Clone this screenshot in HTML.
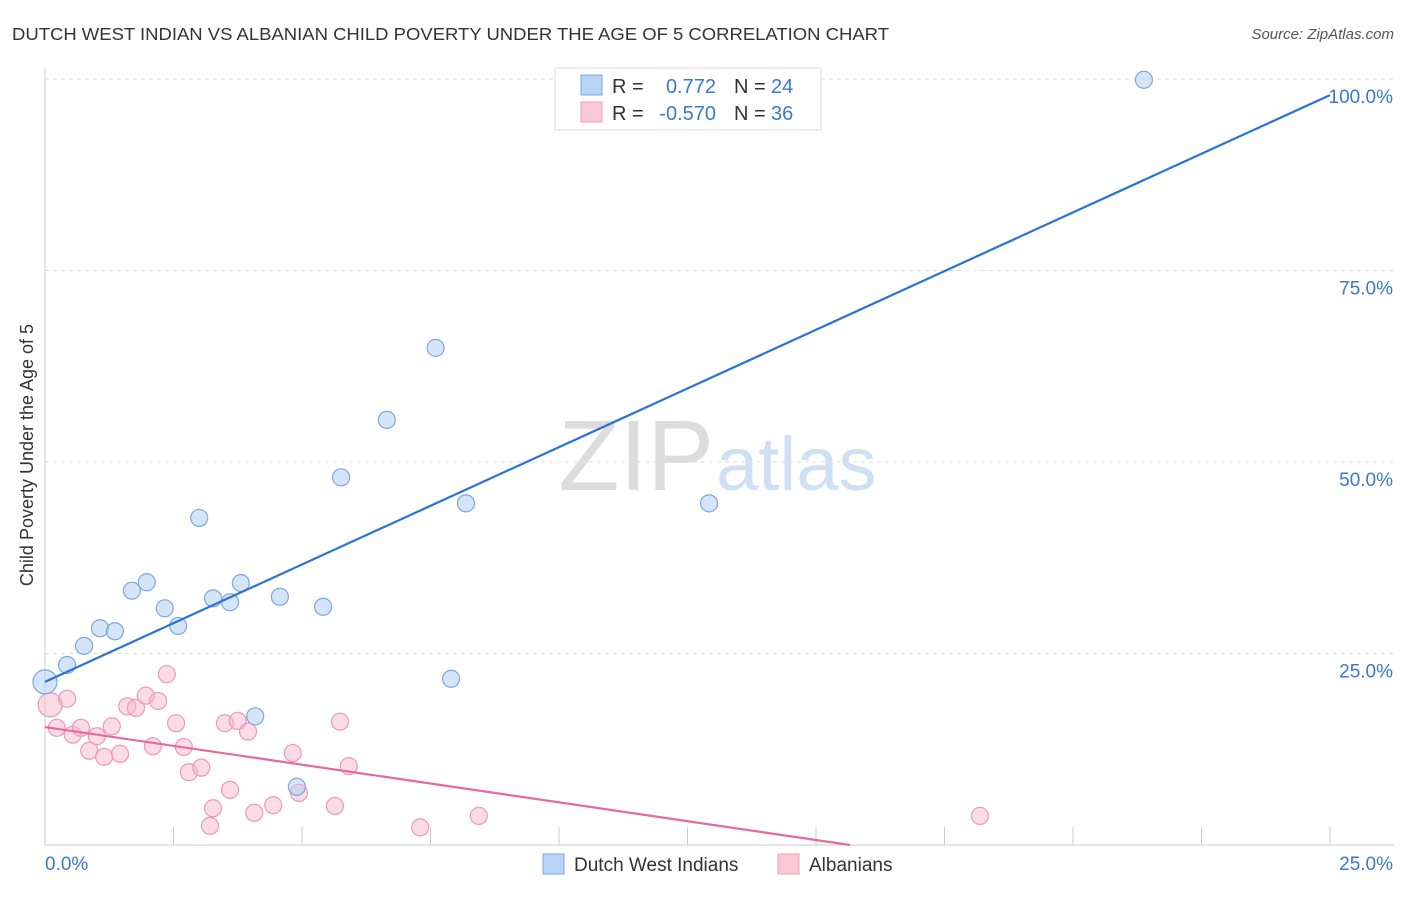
<!DOCTYPE html>
<html><head><meta charset="utf-8"><style>
body{margin:0;background:#fff;font-family:"Liberation Sans",sans-serif;}
svg text{font-family:"Liberation Sans",sans-serif;}
</style></head><body>
<svg width="1406" height="892" xmlns="http://www.w3.org/2000/svg" id="chart">
<text x="12" y="40" font-size="17.5" fill="#333" textLength="877" lengthAdjust="spacingAndGlyphs">DUTCH WEST INDIAN VS ALBANIAN CHILD POVERTY UNDER THE AGE OF 5 CORRELATION CHART</text>
<text x="1394" y="39" font-size="15" fill="#555" text-anchor="end" font-style="italic">Source: ZipAtlas.com</text>
<text x="714" y="490" font-size="100" fill="#ddd" text-anchor="end" font-family="Liberation Serif">ZIP</text>
<text x="716" y="490" font-size="76" fill="#cfe0f5">atlas</text>
<g id="grid"></g>
<g id="axes"></g>
<g id="marks"></g>
<text transform="translate(33,455) rotate(-90)" font-size="18" fill="#333" text-anchor="middle">Child Poverty Under the Age of 5</text>
<g>
<rect x="555" y="68" width="266" height="62" fill="#fff" stroke="#ddd"/>
<rect x="581" y="75" width="21" height="20" fill="#b9d3f5" stroke="#7aa8e0"/>
<rect x="581" y="102" width="21" height="20" fill="#fbc8d6" stroke="#eea0b8"/>
<text x="612" y="93" font-size="20" fill="#333">R =</text>
<text x="716" y="93" font-size="20" fill="#3b78d0" text-anchor="end">0.772</text>
<text x="734" y="93" font-size="20" fill="#333">N =</text>
<text x="771" y="93" font-size="20" fill="#3b78d0">24</text>
<text x="612" y="120" font-size="20" fill="#333">R =</text>
<text x="716" y="120" font-size="20" fill="#3b78d0" text-anchor="end">-0.570</text>
<text x="734" y="120" font-size="20" fill="#333">N =</text>
<text x="771" y="120" font-size="20" fill="#3b78d0">36</text>
</g>
<g>
<rect x="543" y="854" width="21" height="20" fill="#b9d3f5" stroke="#7aa8e0"/>
<text x="574" y="871" font-size="19" fill="#333">Dutch West Indians</text>
<rect x="778" y="854" width="21" height="20" fill="#fbc8d6" stroke="#eea0b8"/>
<text x="809" y="871" font-size="19" fill="#333">Albanians</text>
</g>
</svg>
<script>
const blueX=[0,0.43,0.76,1.07,1.36,1.69,1.98,2.33,2.59,3.0,3.27,3.6,3.81,4.09,4.57,4.9,5.41,5.76,6.65,7.6,7.9,8.19,12.92,21.38];
const blueY=[21.3,23.5,26.0,28.3,27.9,33.2,34.3,30.9,28.6,42.7,32.2,31.7,34.2,16.8,32.4,7.6,31.1,48.0,55.5,64.9,21.7,44.6,44.6,99.9];
const pinkX=[0.1,0.43,0.23,0.54,0.7,0.86,1.01,1.15,1.3,1.46,1.6,1.77,1.96,2.1,2.2,2.37,2.55,2.7,2.8,3.04,3.21,3.27,3.5,3.6,3.75,3.95,4.07,4.44,4.82,4.94,5.64,5.74,5.91,7.3,8.44,18.19];
const pinkY=[18.3,19.1,15.3,14.4,15.3,12.3,14.2,11.5,15.5,11.9,18.1,17.9,19.5,12.9,18.8,22.3,15.9,12.8,9.5,10.1,2.5,4.8,15.9,7.2,16.2,14.8,4.2,5.2,12.0,6.8,5.1,16.1,10.3,2.3,3.8,3.8];
const blueTrend=[21.3,97.9];
const pinkTrend=[15.4,-0.01,15.66];
const yTicks=[25,50,75,100];
const yTickLabels=["25.0%","50.0%","75.0%","100.0%"];
const xTickCount=10;

const NS="http://www.w3.org/2000/svg";
const X0=45,X1=1330,Y0=845,Y1=79;
const sx=v=>X0+(X1-X0)*v/25;
const sy=v=>Y0-(Y0-Y1)*v/100;
function mk(tag,attrs,parent){const e=document.createElementNS(NS,tag);for(const k in attrs)e.setAttribute(k,attrs[k]);document.getElementById(parent).appendChild(e);return e;}

yTicks.forEach((t,i)=>{
 const g=mk('line',{x1:X0,x2:1394,y1:sy(t),y2:sy(t),stroke:'#ddd','stroke-dasharray':'4,4'},'grid');
 
 
 const l=mk('text',{x:1393,y:sy(t)+24,'font-size':19,fill:'#3b78d0','text-anchor':'end'},'axes');
 l.textContent=yTickLabels[i];
 
 
});
const ax=mk('line',{x1:X0,x2:1394,y1:Y0,y2:Y0,stroke:'#ccc'},'axes');


const ay=mk('line',{x1:X0,x2:X0,y1:68,y2:Y0,stroke:'#ccc'},'axes');


for(let i=1;i<=xTickCount;i++){
 const t=mk('line',{x1:sx(i*2.5),x2:sx(i*2.5),y1:Y0-18,y2:Y0,stroke:'#ccc'},'axes');
 
 
}
const xl0=mk('text',{x:45,y:870,'font-size':19,fill:'#3b78d0'},'axes');xl0.textContent='0.0%';


const xl1=mk('text',{x:1393,y:870,'font-size':19,fill:'#3b78d0','text-anchor':'end'},'axes');xl1.textContent='25.0%';



pinkX.forEach((v,i)=>{
 const c=mk('circle',{cx:sx(v),cy:sy(pinkY[i]),r:(i==0?12:8.5),fill:'rgba(248,184,204,0.5)',stroke:'#ec9ab6','stroke-width':1.2},'marks');
 
 
});
blueX.forEach((v,i)=>{
 const c=mk('circle',{cx:sx(v),cy:sy(blueY[i]),r:(i==0?12:8.5),fill:'rgba(180,206,242,0.55)',stroke:'#7aa8e0','stroke-width':1.2},'marks');
 
 
});
const bl=mk('line',{x1:sx(0),y1:sy(blueTrend[0]),x2:sx(25),y2:sy(blueTrend[1]),stroke:'#2a72d8','stroke-width':2.2},'marks');


const pl=mk('line',{x1:sx(0),y1:sy(pinkTrend[0]),x2:sx(pinkTrend[2]),y2:sy(0),stroke:'#e8689a','stroke-width':2.2},'marks');


</script>
</body></html>
